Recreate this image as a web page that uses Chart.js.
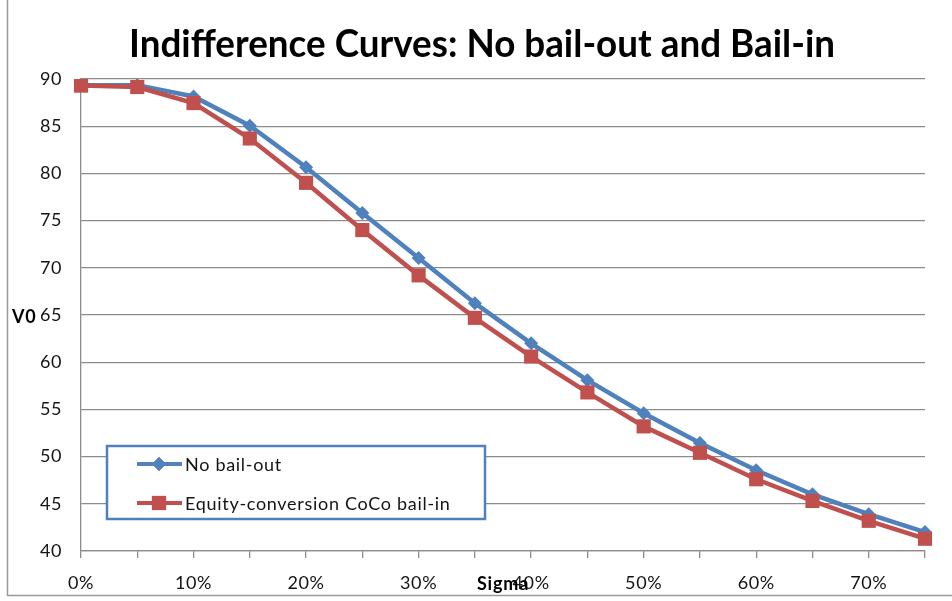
<!DOCTYPE html>
<html>
<head>
<meta charset="utf-8">
<script src="https://cdn.jsdelivr.net/npm/chart.js@4.4.1/dist/chart.umd.min.js"></script>
<style>
  html, body { margin: 0; padding: 0; background: #ffffff; }
  #wrap { width: 952px; height: 601px; }
</style>
</head>
<body>
<div id="wrap"><canvas id="chart" width="952" height="601"></canvas></div>
<script>
// Volatility (sigma) categories
const sigmaLabels = ['0%', '5%', '10%', '15%', '20%', '25%', '30%', '35%',
                     '40%', '45%', '50%', '55%', '60%', '65%', '70%', '75%'];

// V0 indifference values per sigma
const noBailOut = [89.35, 89.35, 88.15, 85.05, 80.65, 75.8, 71.05, 66.25,
                   62.0, 58.1, 54.6, 51.45, 48.55, 46.0, 43.9, 42.0];
const cocoBailIn = [89.3, 89.15, 87.45, 83.7, 79.0, 74.0, 69.2, 64.7,
                    60.6, 56.8, 53.2, 50.4, 47.6, 45.3, 43.2, 41.3];

const seriesNames = ['No bail-out', 'Equity-conversion CoCo bail-in'];
const chartTitle = 'Indifference Curves: No bail-out and Bail-in';
const yTitle = 'V0';
const xTitle = 'Sigma';

const BLUE = '#4F81BD';
const RED = '#C0504D';
const GRID = '#8c8c8c';
const TEXT = '#141414';
const FONT = 'Lato, "DejaVu Sans", sans-serif';

// Frame, title, axis titles and the in-plot legend
const decorations = {
  id: 'decorations',
  beforeDraw(chart) {
    const ctx = chart.ctx;
    ctx.letterSpacing = '0.6px';
    ctx.save();
    ctx.strokeStyle = '#9a9a9a';
    ctx.lineWidth = 1.5;
    ctx.beginPath();
    ctx.moveTo(7.5, 0);
    ctx.lineTo(7.5, 595.5);
    ctx.lineTo(chart.width, 595.5);
    ctx.stroke();
    ctx.restore();
  },
  afterDraw(chart) {
    const ctx = chart.ctx;
    const area = chart.chartArea;
    ctx.save();
    ctx.letterSpacing = '0px';

    // Title
    ctx.fillStyle = '#000';
    ctx.font = 'bold 38px ' + FONT;
    ctx.textAlign = 'center';
    ctx.textBaseline = 'alphabetic';
    ctx.fillText(chartTitle, 482, 57, 706);

    // Axis titles
    ctx.font = 'bold 18px ' + FONT;
    ctx.letterSpacing = '0.8px';
    ctx.textAlign = 'left';
    ctx.textBaseline = 'middle';
    ctx.fillText(yTitle, 12, (area.top + area.bottom) / 2 + 2);
    ctx.textAlign = 'center';
    ctx.fillText(xTitle, (area.left + area.right) / 2, 584);
    ctx.letterSpacing = '0px';

    // Legend box
    const lx = area.left + 26, ly = area.top + 367, lw = 378, lh = 73;
    ctx.fillStyle = '#fff';
    ctx.fillRect(lx, ly, lw, lh);
    ctx.strokeStyle = BLUE;
    ctx.lineWidth = 2.5;
    ctx.strokeRect(lx, ly, lw, lh);

    const rows = [
      { name: seriesNames[0], color: BLUE, style: 'rectRot', r: 7, y: ly + 18 },
      { name: seriesNames[1], color: RED, style: 'rect', r: 10, y: ly + 57 }
    ];
    rows.forEach(row => {
      ctx.strokeStyle = row.color;
      ctx.lineWidth = 4;
      ctx.beginPath();
      ctx.moveTo(lx + 30, row.y);
      ctx.lineTo(lx + 75, row.y);
      ctx.stroke();
      ctx.fillStyle = row.color;
      Chart.helpers.drawPoint(ctx, { pointStyle: row.style, radius: row.r, borderWidth: 0 }, lx + 52, row.y);
      ctx.fill();
      ctx.fillStyle = TEXT;
      ctx.font = '18px ' + FONT;
      ctx.letterSpacing = '0.7px';
      ctx.textAlign = 'left';
      ctx.textBaseline = 'middle';
      ctx.fillText(row.name, lx + 78, row.y + 1);
      ctx.letterSpacing = '0px';
    });
    ctx.restore();
  }
};

new Chart(document.getElementById('chart'), {
  type: 'line',
  data: {
    labels: sigmaLabels,
    datasets: [
      {
        label: seriesNames[0],
        data: noBailOut,
        borderColor: BLUE,
        backgroundColor: BLUE,
        borderWidth: 4.5,
        pointStyle: 'rectRot',
        pointRadius: 7,
        pointBorderWidth: 0,
        tension: 0,
        order: 1
      },
      {
        label: seriesNames[1],
        data: cocoBailIn,
        borderColor: RED,
        backgroundColor: RED,
        borderWidth: 4.5,
        pointStyle: 'rect',
        pointRadius: 10,
        pointBorderWidth: 0,
        tension: 0,
        order: 0
      }
    ]
  },
  options: {
    responsive: false,
    animation: false,
    devicePixelRatio: 1,
    layout: { padding: { top: 79, left: 0, right: 27, bottom: 0 } },
    plugins: {
      legend: { display: false },
      title: { display: false },
      tooltip: { enabled: false }
    },
    scales: {
      x: {
        type: 'category',
        offset: false,
        grid: { display: true, drawOnChartArea: false, drawTicks: true, tickLength: 7, color: GRID, lineWidth: 1.3 },
        border: { display: true, color: GRID, width: 1.3 },
        ticks: {
          autoSkip: false,
          maxRotation: 0,
          padding: 14,
          color: TEXT,
          font: { family: FONT, size: 18 },
          callback: (value, index) => (index % 2 === 0 ? sigmaLabels[index] : '')
        },
        afterFit: scale => { scale.height = 50; }
      },
      y: {
        min: 40,
        max: 90,
        grid: { color: GRID, lineWidth: 1.3, drawTicks: false },
        border: { display: true, color: GRID, width: 1.3 },
        ticks: {
          stepSize: 5,
          padding: 19,
          color: TEXT,
          font: { family: FONT, size: 18 }
        },
        afterFit: scale => { scale.width = 81; }
      }
    }
  },
  plugins: [decorations]
});
</script>
</body>
</html>
